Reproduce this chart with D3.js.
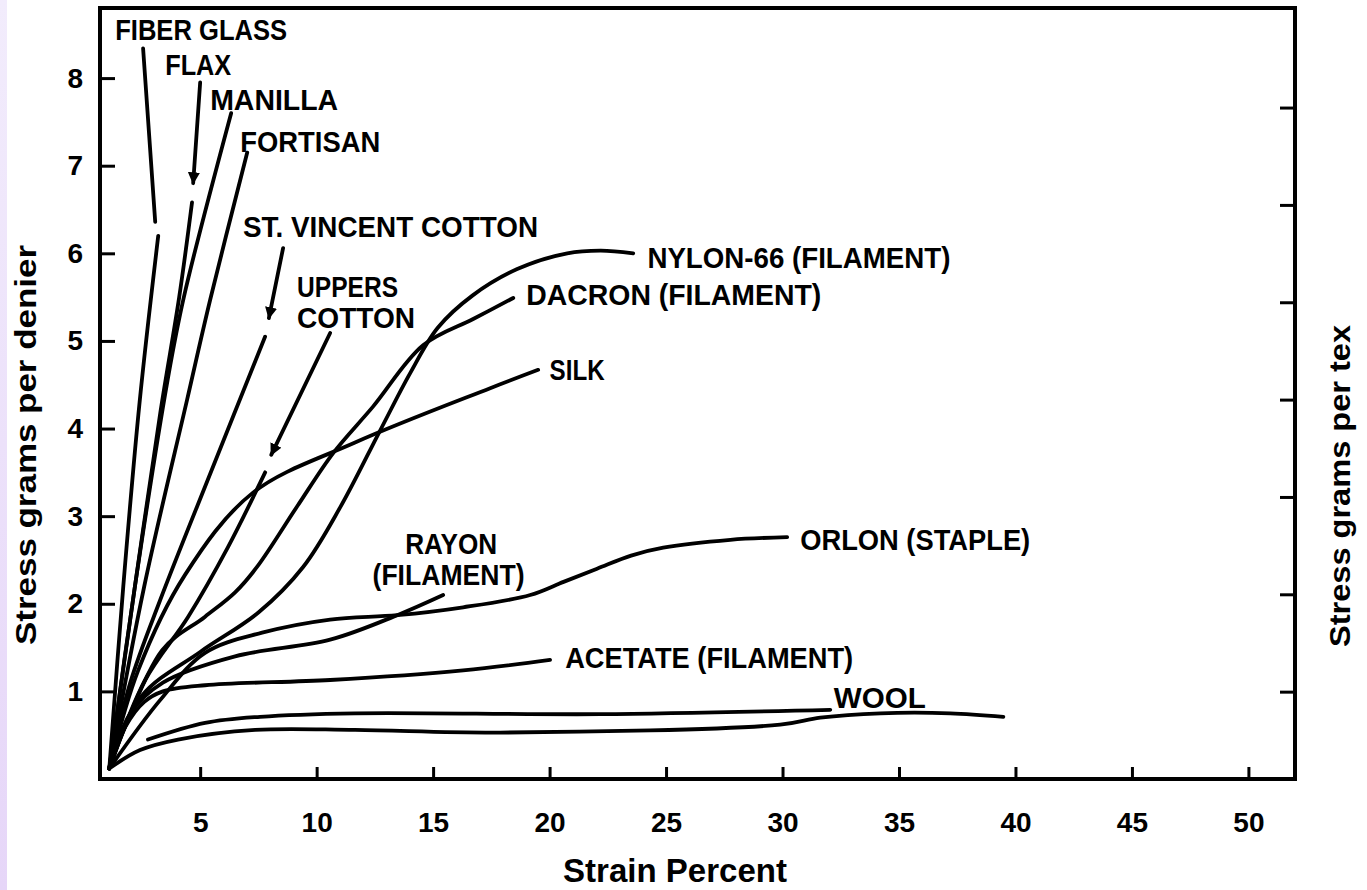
<!DOCTYPE html>
<html>
<head>
<meta charset="utf-8">
<script src="https://cdn.jsdelivr.net/npm/d3@7"></script>
<style>
  html, body { margin: 0; padding: 0; background: #fff; }
  svg { display: block; }
  text { font-family: "Liberation Sans", Arial, sans-serif; font-weight: 700; fill: #000; }
</style>
</head>
<body>
<svg id="chart"></svg>
<script>
// ── CONFIG ──────────────────────────────────────────────────
const W = 1367;
const H = 890;
const STROKE = 3.8;

// ── DATA (strain %, stress g/denier) ────────────────────────
const xTicks   = [5, 10, 15, 20, 25, 30, 35, 40, 45, 50];
const yTicks   = [1, 2, 3, 4, 5, 6, 7, 8];
const texTicks = [10, 20, 30, 40, 50, 60, 70];

const fiberGlass = [[1.1, 0.12], [1.7, 2.2], [2.4, 4.3], [3.2, 6.2]];
const flax       = [[1.1, 0.12], [2.2, 2.2], [3.3, 4.2], [4.1, 5.5], [4.65, 6.58]];
const manilla    = [[1.1, 0.12], [2.2, 2.2], [3.6, 4.55], [4.3, 5.5], [6.33, 7.6]];
const fortisan   = [[1.1, 0.12], [2.6, 2.2], [4.44, 4.33], [5.43, 5.47], [7.02, 7.15]];
const stVincent  = [[1.1, 0.12], [2.0, 1.1], [3.28, 2.04], [5.5, 3.53], [7.79, 5.05]];
const uppers     = [[1.1, 0.12], [2.64, 1.13], [4.48, 1.85], [6.2, 2.65], [7.79, 3.5]];
const silk       = [[1.1, 0.12], [2.34, 1.24], [4.35, 2.33], [7.23, 3.26], [11.65, 3.84], [17.45, 4.46], [19.51, 4.67]];
const dacron     = [[1.1, 0.12], [3.37, 1.47], [5.2, 1.85], [6.5, 2.13], [7.44, 2.42], [9.16, 3.11], [10.71, 3.72], [12.42, 4.25], [14.57, 4.95], [16.72, 5.25], [18.44, 5.49]];
const nylon      = [[1.1, 0.12], [2.5, 0.95], [5.0, 1.45], [7.5, 1.9], [9.42, 2.42], [11.01, 3.1], [12.73, 3.98], [14.01, 4.63], [15.2, 5.15], [16.7, 5.52], [18.61, 5.82], [20.76, 6.0], [22.2, 6.03], [23.59, 6.0]];
const orlon      = [[1.1, 0.12], [3.28, 0.9], [5.21, 1.44], [7.66, 1.67], [10.58, 1.82], [13.46, 1.87], [16.29, 1.96], [19.17, 2.1], [20.6, 2.25], [22.04, 2.4], [23.5, 2.55], [24.88, 2.64], [27.76, 2.73], [30.2, 2.76]];
const rayon      = [[1.1, 0.12], [2.0, 0.75], [3.4, 1.1], [6.5, 1.4], [10.58, 1.59], [13.46, 1.87], [15.43, 2.1]];
const acetate    = [[1.1, 0.12], [1.8, 0.6], [2.6, 0.88], [3.4, 1.0], [5.21, 1.07], [10.58, 1.13], [16.29, 1.24], [20.02, 1.36]];
const wool       = [[2.76, 0.45], [5.21, 0.64], [7.57, 0.71], [11.65, 0.75], [22.17, 0.74], [32.05, 0.79]];
const woolB      = [[1.1, 0.12], [2.42, 0.33], [4.05, 0.45], [7.36, 0.56], [11.65, 0.56], [17.88, 0.53], [29.9, 0.62], [31.62, 0.7], [34.2, 0.75], [37.2, 0.75], [39.48, 0.71]];

const curves = [fiberGlass, flax, manilla, fortisan, stVincent, uppers, silk,
                dacron, nylon, orlon, rayon, acetate, wool, woolB];

// leader lines [x1, y1, x2, y2, arrow]
const leaders = [
  [2.55, 8.34, 3.07, 6.36, false],
  [5.0, 7.95, 4.70, 6.80, true],
  [8.56, 6.06, 7.95, 5.26, true],
  [10.58, 5.09, 8.05, 3.70, true]
];

// curve labels
const labelText = ['FIBER GLASS', 'FLAX', 'MANILLA', 'FORTISAN', 'ST. VINCENT COTTON',
  'UPPERS', 'COTTON', 'NYLON-66 (FILAMENT)', 'DACRON (FILAMENT)', 'SILK', 'RAYON',
  '(FILAMENT)', 'ORLON (STAPLE)', 'ACETATE (FILAMENT)', 'WOOL'];

// ── LAYOUT (label anchor in data units, text width px) ──────
const labelLayout = [
  [1.35, 8.44, 172], [3.5, 8.04, 66], [5.43, 7.64, 128], [6.72, 7.16, 140],
  [6.84, 6.19, 295], [9.16, 5.50, 101], [9.16, 5.15, 118], [24.2, 5.83, 303],
  [19.0, 5.41, 295], [20.0, 4.55, 55], [13.8, 2.57, 92], [12.4, 2.21, 152],
  [30.76, 2.61, 230], [20.67, 1.27, 288], [32.2, 0.81, 92]
];

// ── SCALES ───────────────────────────────────────────────────
const x = d3.scaleLinear().domain([0.7, 52.0]).range([100, 1295]);
const y = d3.scaleLinear().domain([0, 8.8]).range([779, 8]);
const yTex = d3.scaleLinear().domain([0, 79.2]).range([789, 18]);

const svg = d3.select('#chart').attr('width', W).attr('height', H);

// lavender strip on the left edge
const defs = svg.append('defs');
const grad = defs.append('linearGradient').attr('id', 'strip')
  .attr('x1', 0).attr('y1', 0).attr('x2', 0).attr('y2', 1);
grad.append('stop').attr('offset', 0).attr('stop-color', '#f2ecfc');
grad.append('stop').attr('offset', 1).attr('stop-color', '#e6d6f8');
svg.append('rect').attr('x', 0).attr('y', 0).attr('width', 7).attr('height', H)
  .attr('fill', 'url(#strip)');

defs.append('marker').attr('id', 'arrow')
  .attr('viewBox', '0 0 10 10').attr('refX', 9).attr('refY', 5)
  .attr('markerWidth', 3.2).attr('markerHeight', 3.2).attr('orient', 'auto')
  .append('path').attr('d', 'M0,0 L10,5 L0,10 z').attr('fill', '#000');

// ── AXES ─────────────────────────────────────────────────────
svg.append('g')
  .attr('transform', 'translate(100,0)')
  .call(d3.axisLeft(y).tickValues(yTicks).tickSize(-15).tickPadding(17).tickFormat(d3.format('d')))
  .call(g => g.select('.domain').remove())
  .call(g => g.selectAll('line').attr('stroke', '#000').attr('stroke-width', 3));

svg.append('g')
  .attr('transform', 'translate(0,779)')
  .call(d3.axisBottom(x).tickValues(xTicks).tickSize(-12).tickPadding(33).tickFormat(d3.format('d')))
  .call(g => g.select('.domain').remove())
  .call(g => g.selectAll('line').attr('stroke', '#000').attr('stroke-width', 3));

svg.append('g')
  .attr('transform', 'translate(1295,0)')
  .call(d3.axisRight(yTex).tickValues(texTicks).tickSize(-15).tickFormat(''))
  .call(g => g.select('.domain').remove())
  .call(g => g.selectAll('line').attr('stroke', '#000').attr('stroke-width', 3));

svg.selectAll('.tick text')
  .attr('font-family', null).attr('font-size', null)
  .style('font-size', '28px');

// frame
svg.append('rect')
  .attr('x', x(0.7)).attr('y', y(8.8))
  .attr('width', x(52.0) - x(0.7)).attr('height', y(0) - y(8.8))
  .attr('fill', 'none').attr('stroke', '#000').attr('stroke-width', 4);

// axis titles
svg.append('text')
  .attr('x', 675).attr('y', 882)
  .attr('text-anchor', 'middle')
  .attr('textLength', 224).attr('lengthAdjust', 'spacingAndGlyphs')
  .style('font-size', '33px')
  .text('Strain Percent');

svg.append('text')
  .attr('transform', 'translate(36,445) rotate(-90)')
  .attr('text-anchor', 'middle')
  .attr('textLength', 400).attr('lengthAdjust', 'spacingAndGlyphs')
  .style('font-size', '30px')
  .text('Stress grams per denier');

svg.append('text')
  .attr('transform', 'translate(1350,486) rotate(-90)')
  .attr('text-anchor', 'middle')
  .attr('textLength', 322).attr('lengthAdjust', 'spacingAndGlyphs')
  .style('font-size', '30px')
  .text('Stress grams per tex');

// ── CURVES ───────────────────────────────────────────────────
const line = d3.line()
  .x(d => x(d[0]))
  .y(d => y(d[1]))
  .curve(d3.curveCatmullRom.alpha(0.5));

svg.append('g').selectAll('path')
  .data(curves)
  .join('path')
  .attr('d', line)
  .attr('fill', 'none')
  .attr('stroke', '#000')
  .attr('stroke-width', STROKE)
  .attr('stroke-linecap', 'round')
  .attr('stroke-linejoin', 'round');

svg.append('g').selectAll('line')
  .data(leaders)
  .join('line')
  .attr('x1', d => x(d[0])).attr('y1', d => y(d[1]))
  .attr('x2', d => x(d[2])).attr('y2', d => y(d[3]))
  .attr('stroke', '#000')
  .attr('stroke-width', STROKE)
  .attr('stroke-linecap', 'round')
  .attr('marker-end', d => d[4] ? 'url(#arrow)' : null);

// ── LABELS ───────────────────────────────────────────────────
svg.append('g').selectAll('text')
  .data(labelText)
  .join('text')
  .attr('x', (d, i) => x(labelLayout[i][0]))
  .attr('y', (d, i) => y(labelLayout[i][1]))
  .attr('textLength', (d, i) => labelLayout[i][2])
  .attr('lengthAdjust', 'spacingAndGlyphs')
  .style('font-size', '29px')
  .text(d => d);
</script>
</body>
</html>
